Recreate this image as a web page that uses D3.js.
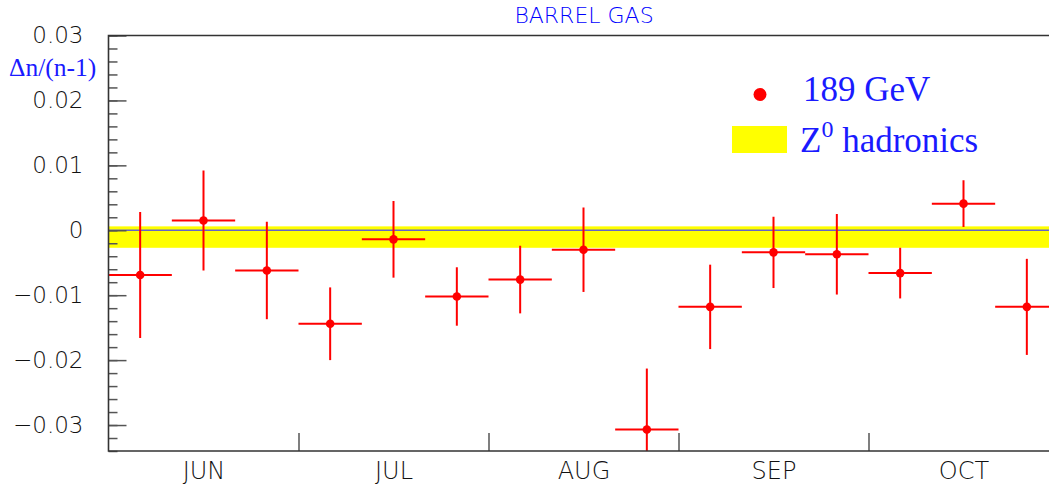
<!DOCTYPE html>
<html>
<head>
<meta charset="utf-8">
<script src="https://cdn.jsdelivr.net/npm/d3@7"></script>
<style>
  body { margin: 0; background: #fff; }
  svg { display: block; }
  .tick text { font-family: "DejaVu Sans", sans-serif; font-weight: 200; fill: #111; }
</style>
</head>
<body>
<div id="chart"></div>
<script>
// bins: 3 per month, Jun..Oct
const months = ['JUN', 'JUL', 'AUG', 'SEP', 'OCT']
const bins = [0, 1, 2, 3, 4, 5, 6, 7, 8, 9, 10, 11, 12, 13, 14]
const values = [-0.0069, 0.0015, -0.0062, -0.0144, -0.0014, -0.0102, -0.0076, -0.0030,
                -0.0307, -0.0118, -0.0034, -0.0037, -0.0066, 0.0041, -0.0118]
const errors = [0.0097, 0.0077, 0.0075, 0.0056, 0.0059, 0.0045, 0.0052, 0.0065,
                0.0094, 0.0065, 0.0055, 0.0062, 0.0039, 0.0036, 0.0074]
const bandRange = [-0.0027, 0.0006]   // Z0 hadronics
const yMajor = [-0.03, -0.02, -0.01, 0, 0.01, 0.02, 0.03]
const yMinor = d3.range(-0.034, 0.0301, 0.002).map(d => +d.toFixed(3))

const W = 1049, H = 487
const mLeft = 108.5, mTop = 35.5, mBottom = 451, mRight = 1058.5

const svg = d3.select('#chart').append('svg')
  .attr('width', W)
  .attr('height', H)

const x = d3.scaleLinear().domain([0, 15]).range([mLeft, mRight])
const y = d3.scaleLinear().domain([-0.034, 0.03]).range([mBottom, mTop])

svg.append('clipPath').attr('id', 'plot')
  .append('rect')
  .attr('x', mLeft).attr('y', mTop)
  .attr('width', mRight - mLeft).attr('height', mBottom - mTop)

// title
svg.append('text')
  .attr('x', 584).attr('y', 23)
  .attr('text-anchor', 'middle')
  .attr('font-family', 'DejaVu Sans, sans-serif')
  .attr('font-weight', 200)
  .attr('font-size', 22)
  .attr('fill', '#0000ff')
  .text('BARREL GAS')

// yellow band + zero line
const plot = svg.append('g').attr('clip-path', 'url(#plot)')
plot.append('rect')
  .attr('x', mLeft)
  .attr('y', y(bandRange[1]))
  .attr('width', mRight - mLeft)
  .attr('height', y(bandRange[0]) - y(bandRange[1]))
  .attr('fill', '#ffff00')
plot.append('line')
  .attr('x1', mLeft).attr('x2', mRight)
  .attr('y1', y(0)).attr('y2', y(0))
  .attr('stroke', '#6464c8')
  .attr('stroke-width', 1.5)

// y axis
const yAxisMinor = d3.axisLeft(y).tickValues(yMinor).tickSize(-9).tickFormat('')
const yAxis = d3.axisLeft(y).tickValues(yMajor).tickSize(-18).tickPadding(25)
  .tickFormat(d => d === 0 ? '0' : d3.format('.2f')(d).replace('-', '\u2212'))

svg.append('g').attr('transform', `translate(${mLeft},0)`).call(yAxisMinor)
  .call(g => g.select('.domain').remove())
  .call(g => g.selectAll('line').attr('stroke', '#555').attr('stroke-width', 1.5))
svg.append('g').attr('transform', `translate(${mLeft},0)`).call(yAxis)
  .call(g => g.select('.domain').remove())
  .call(g => g.selectAll('line').attr('stroke', '#555').attr('stroke-width', 1.5))
  .call(g => g.selectAll('text').attr('font-size', 23))

// x axis: month boundaries and labels
const xAxis = d3.axisBottom(x).tickValues([3, 6, 9, 12]).tickSize(-18).tickFormat('')
svg.append('g').attr('transform', `translate(0,${mBottom})`).call(xAxis)
  .call(g => g.select('.domain').remove())
  .call(g => g.selectAll('line').attr('stroke', '#555').attr('stroke-width', 1.5))

const xLabels = d3.axisBottom(x).tickValues(months.map((m, i) => i * 3 + 1.5))
  .tickSize(0).tickPadding(11).tickFormat((d, i) => months[i])
svg.append('g').attr('transform', `translate(0,${mBottom})`).call(xLabels)
  .call(g => g.select('.domain').remove())
  .call(g => g.selectAll('text').attr('font-size', 24))

// frame
svg.append('path')
  .attr('d', `M${W},${mTop}H${mLeft}V${mBottom}H${W}`)
  .attr('fill', 'none')
  .attr('stroke', '#333')
  .attr('stroke-width', 1.6)

// axis title
svg.append('text')
  .attr('x', 9).attr('y', 76)
  .attr('font-family', 'Liberation Serif, serif')
  .attr('font-size', 25.5)
  .attr('fill', '#1a1aff')
  .text('\u0394n/(n-1)')

// data points
const pts = plot.selectAll('g.pt')
  .data(bins)
  .join('g')
  .attr('class', 'pt')
pts.append('line')
  .attr('x1', i => x(i)).attr('x2', i => x(i + 1))
  .attr('y1', i => y(values[i])).attr('y2', i => y(values[i]))
  .attr('stroke', '#ff0000').attr('stroke-width', 2)
pts.append('line')
  .attr('x1', i => x(i + 0.5)).attr('x2', i => x(i + 0.5))
  .attr('y1', i => y(values[i] - errors[i])).attr('y2', i => y(values[i] + errors[i]))
  .attr('stroke', '#ff0000').attr('stroke-width', 2)
pts.append('circle')
  .attr('cx', i => x(i + 0.5))
  .attr('cy', i => y(values[i]))
  .attr('r', 4.3)
  .attr('fill', '#ff0000')

// legend
svg.append('circle').attr('cx', 760).attr('cy', 94.5).attr('r', 6.5).attr('fill', '#ff0000')
svg.append('text')
  .attr('x', 803).attr('y', 101)
  .attr('font-family', 'Liberation Serif, serif')
  .attr('font-size', 35)
  .attr('fill', '#1a1aff')
  .text('189 GeV')
svg.append('rect')
  .attr('x', 732).attr('y', 126)
  .attr('width', 55).attr('height', 27)
  .attr('fill', '#ffff00')
const zt = svg.append('text')
  .attr('x', 800).attr('y', 152)
  .attr('font-family', 'Liberation Serif, serif')
  .attr('font-size', 35)
  .attr('fill', '#1a1aff')
zt.append('tspan').text('Z')
zt.append('tspan').attr('dy', -15).attr('font-size', 24).text('0')
zt.append('tspan').attr('dy', 15).text(' hadronics')
</script>
</body>
</html>
